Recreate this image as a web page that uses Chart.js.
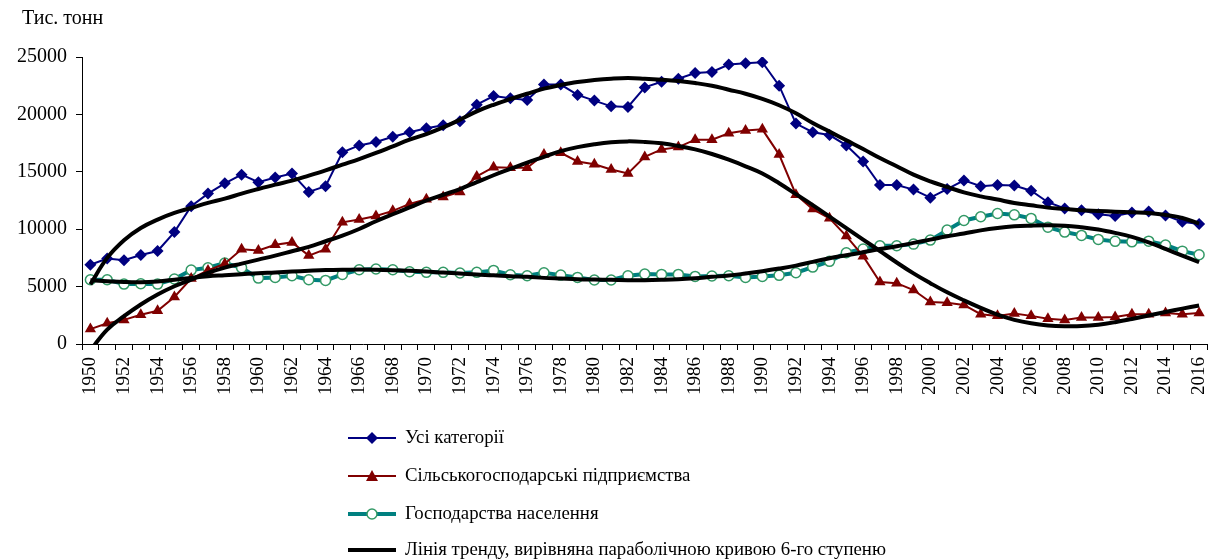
<!DOCTYPE html>
<html>
<head>
<meta charset="utf-8">
<script src="https://cdn.jsdelivr.net/npm/chart.js"></script>
<style>
  html, body { margin: 0; padding: 0; background: #fff; overflow: hidden; }
  #wrap { width: 1209px; height: 560px; position: relative; overflow: hidden; }
  #inner { width: 1209px; height: 560px; position: relative; }
  #grainChart { display: block; }
</style>
</head>
<body>
<div id="wrap"><div id="inner"><canvas id="grainChart"></canvas></div></div>
<script>
const years = [
  '1950','1951','1952','1953','1954','1955','1956','1957','1958','1959',
  '1960','1961','1962','1963','1964','1965','1966','1967','1968','1969',
  '1970','1971','1972','1973','1974','1975','1976','1977','1978','1979',
  '1980','1981','1982','1983','1984','1985','1986','1987','1988','1989',
  '1990','1991','1992','1993','1994','1995','1996','1997','1998','1999',
  '2000','2001','2002','2003','2004','2005','2006','2007','2008','2009',
  '2010','2011','2012','2013','2014','2015','2016'
];

// Усі категорії
const allCategories = [
  6900, 7450, 7300, 7750, 8100, 9750, 12000, 13100, 14000, 14750,
  14100, 14500, 14850, 13250, 13750, 16700, 17300, 17600, 18050, 18450,
  18800, 19050, 19400, 20850, 21600, 21400, 21250, 22600, 22600, 21700,
  21200, 20700, 20650, 22350, 22850, 23100, 23600, 23700, 24350, 24450,
  24550, 22500, 19200, 18450, 18200, 17300, 15900, 13850, 13850, 13450,
  12750, 13500, 14250, 13750, 13850, 13800, 13350, 12350, 11800, 11650,
  11300, 11150, 11450, 11550, 11200, 10650, 10450
];

// Сільськогосподарські підприємства
const enterprises = [
  1300, 1800, 2100, 2550, 2900, 4100, 5700, 6400, 7000, 8250,
  8150, 8650, 8850, 7700, 8250, 10600, 10850, 11150, 11600, 12200,
  12600, 12800, 13250, 14600, 15400, 15350, 15350, 16500, 16650, 15900,
  15650, 15200, 14850, 16300, 16950, 17150, 17800, 17800, 18350, 18600,
  18700, 16500, 13000, 11750, 10950, 9400, 7650, 5400, 5300, 4700,
  3650, 3600, 3400, 2600, 2450, 2650, 2450, 2200, 2100, 2300,
  2300, 2350, 2600, 2600, 2700, 2600, 2700
];

// Господарства населення
const households = [
  5600, 5600, 5220, 5250, 5220, 5660, 6440, 6640, 7050, 6640,
  5740, 5800, 5950, 5600, 5540, 6060, 6470, 6530, 6470, 6290,
  6240, 6240, 6180, 6240, 6410, 6030, 5950, 6210, 6000, 5800,
  5570, 5570, 5950, 6090, 6060, 6060, 5890, 5920, 5950, 5800,
  5890, 5980, 6210, 6700, 7200, 7950, 8270, 8560, 8560, 8700,
  9050, 9920, 10760, 11080, 11370, 11250, 10940, 10180, 9750, 9460,
  9110, 8940, 8900, 8960, 8620, 8090, 7770
];

// trend lines
const trendAll = [
  5200, 7500, 9040, 10110, 10840, 11420, 11850, 12290, 12660, 13100,
  13500, 13880, 14230, 14670, 15130, 15620, 16110, 16640, 17220, 17800,
  18290, 18870, 19540, 20260, 20840, 21340, 21800, 22240, 22560, 22820,
  22990, 23110, 23170, 23110, 23020, 22900, 22730, 22500, 22150, 21800,
  21350, 20800, 20100, 19250, 18500, 17740, 16990, 16200, 15480, 14750,
  14170, 13680, 13210, 12860, 12580, 12290, 12080, 11880, 11770, 11650,
  11590, 11530, 11470, 11420, 11240, 10980, 10490
];
const trendEnterprises = [
  -550, 1260, 2420, 3440, 4310, 5030, 5610, 6200, 6650, 7000,
  7350, 7700, 8080, 8460, 8950, 9440, 10020, 10690, 11300, 11900,
  12500, 13000, 13500, 14100, 14700, 15250, 15800, 16300, 16800, 17150,
  17400, 17580, 17650, 17600, 17480, 17250, 16950, 16550, 16050, 15480,
  14850, 14000, 13050, 12100, 11100, 10100, 9100, 8100, 7100, 6150,
  5300, 4500, 3800, 3150, 2550, 2100, 1800, 1620, 1550, 1560,
  1680, 1900, 2180, 2480, 2790, 3080, 3350
];
const trendHouseholds = [
  5550, 5470, 5400, 5380, 5450, 5600, 5760, 5900, 5990, 6080,
  6170, 6230, 6310, 6380, 6440, 6470, 6480, 6470, 6430, 6370,
  6310, 6220, 6140, 6050, 5990, 5900, 5850, 5760, 5700, 5640,
  5610, 5590, 5560, 5560, 5590, 5640, 5730, 5850, 5960, 6140,
  6340, 6570, 6830, 7150, 7470, 7730, 7990, 8280, 8510, 8810,
  9090, 9380, 9620, 9900, 10110, 10250, 10310, 10340, 10310, 10170,
  9970, 9680, 9330, 8860, 8280, 7700, 7120
];

const yTicks = [0, 5000, 10000, 15000, 20000, 25000];

const seriesNames = [
  'Усі категорії',
  'Сільськогосподарські підприємства',
  'Господарства населення',
  'Лінія тренду, вирівняна параболічною кривою 6-го ступеню'
];

const FONT = "'Liberation Serif', 'Times New Roman', serif";

function trendSet(data) {
  return {
    label: seriesNames[3],
    data: data,
    borderColor: '#000',
    borderWidth: 4,
    pointRadius: 0,
    tension: 0.4,
    fill: false,
    clip: 0,
    order: 1
  };
}

function drawMarker(ctx, style, x, y) {
  ctx.save();
  ctx.beginPath();
  if (style === 'diamond') {
    ctx.moveTo(x, y - 6); ctx.lineTo(x + 6, y); ctx.lineTo(x, y + 6); ctx.lineTo(x - 6, y);
    ctx.closePath();
    ctx.fillStyle = '#000080';
    ctx.fill();
  } else if (style === 'triangle') {
    ctx.moveTo(x, y - 6); ctx.lineTo(x + 6, y + 5); ctx.lineTo(x - 6, y + 5);
    ctx.closePath();
    ctx.fillStyle = '#800000';
    ctx.fill();
  } else if (style === 'circle') {
    ctx.arc(x, y, 5, 0, Math.PI * 2);
    ctx.fillStyle = '#fff';
    ctx.fill();
    ctx.lineWidth = 1.5;
    ctx.strokeStyle = '#339966';
    ctx.stroke();
  }
  ctx.restore();
}

// title above the axis and the stacked legend below
const extraText = {
  id: 'extraText',
  afterDraw(chart) {
    const ctx = chart.ctx;
    ctx.save();
    ctx.fillStyle = '#000';
    ctx.textBaseline = 'middle';
    ctx.textAlign = 'left';
    ctx.font = '20px ' + FONT;
    ctx.fillText('Тис. тонн', 22, 19);

    ctx.font = '18.8px ' + FONT;
    const rows = [
      { color: '#000080', width: 2, marker: 'diamond', y: 438 },
      { color: '#800000', width: 2, marker: 'triangle', y: 476 },
      { color: '#008080', width: 4, marker: 'circle', y: 514 },
      { color: '#000', width: 4, marker: null, y: 550 }
    ];
    rows.forEach((r, i) => {
      ctx.beginPath();
      ctx.strokeStyle = r.color;
      ctx.lineWidth = r.width;
      ctx.moveTo(348, r.y);
      ctx.lineTo(396, r.y);
      ctx.stroke();
      if (r.marker) drawMarker(ctx, r.marker, 372, r.y);
      ctx.fillStyle = '#000';
      ctx.fillText(seriesNames[i], 405, r.y);
    });
    ctx.restore();
  }
};

const ctx = document.getElementById('grainChart').getContext('2d');
const chart = new Chart(ctx, {
  type: 'line',
  data: {
    labels: years,
    datasets: [
      {
        label: seriesNames[0],
        data: allCategories,
        borderColor: '#000080',
        backgroundColor: '#000080',
        borderWidth: 2,
        pointStyle: 'rectRot',
        pointRadius: 6,
        pointBorderWidth: 0,
        tension: 0,
        order: 3
      },
      {
        label: seriesNames[1],
        data: enterprises,
        borderColor: '#800000',
        backgroundColor: '#800000',
        borderWidth: 2,
        pointStyle: 'triangle',
        pointRadius: 6.5,
        pointBorderWidth: 0,
        tension: 0,
        order: 2
      },
      {
        label: seriesNames[2],
        data: households,
        borderColor: '#008080',
        backgroundColor: '#fff',
        borderWidth: 4,
        pointStyle: 'circle',
        pointRadius: 5,
        pointBorderColor: '#339966',
        pointBorderWidth: 1.5,
        pointBackgroundColor: '#fff',
        tension: 0,
        order: 4
      },
      trendSet(trendAll),
      trendSet(trendEnterprises),
      trendSet(trendHouseholds)
    ]
  },
  options: {
    responsive: true,
    maintainAspectRatio: false,
    animation: false,
    layout: { padding: { top: 57, left: 0, right: 2, bottom: 166 } },
    plugins: {
      legend: { display: false },
      tooltip: { enabled: false }
    },
    scales: {
      x: {
        type: 'category',
        offset: true,
        afterFit(scale) {
          scale.height = 50;
          scale.paddingLeft = 0;
          scale.paddingRight = 0;
        },
        border: { color: '#000', width: 1 },
        grid: {
          offset: true,
          drawOnChartArea: false,
          drawTicks: true,
          tickLength: 6,
          color: '#000'
        },
        ticks: {
          autoSkip: false,
          minRotation: 90,
          maxRotation: 90,
          padding: 7,
          color: '#000',
          font: { family: FONT, size: 19 },
          callback: function (val, idx) {
            return idx % 2 === 0 ? years[idx] : '';
          }
        }
      },
      y: {
        min: yTicks[0],
        max: yTicks[yTicks.length - 1],
        afterFit(scale) {
          scale.width = 82;
          scale.paddingTop = 0;
          scale.paddingBottom = 0;
        },
        afterBuildTicks(scale) { scale.ticks = yTicks.map(v => ({ value: v })); },
        border: { color: '#000', width: 1 },
        grid: {
          drawOnChartArea: false,
          drawTicks: true,
          tickLength: 6,
          color: '#000'
        },
        ticks: {
          padding: 9,
          color: '#000',
          font: { family: FONT, size: 20 },
          callback: function (val) { return String(val); }
        }
      }
    }
  },
  plugins: [extraText]
});

// the layout keeps a few px on the right for the last label; widen the
// canvas (clipped by #wrap) so the plot ends where the reference does
const extra = 1207 - chart.chartArea.right;
if (extra > 0.5) {
  const w = Math.round(1209 + extra);
  document.getElementById('inner').style.width = w + 'px';
  chart.resize(w, 560);
}
</script>
</body>
</html>
